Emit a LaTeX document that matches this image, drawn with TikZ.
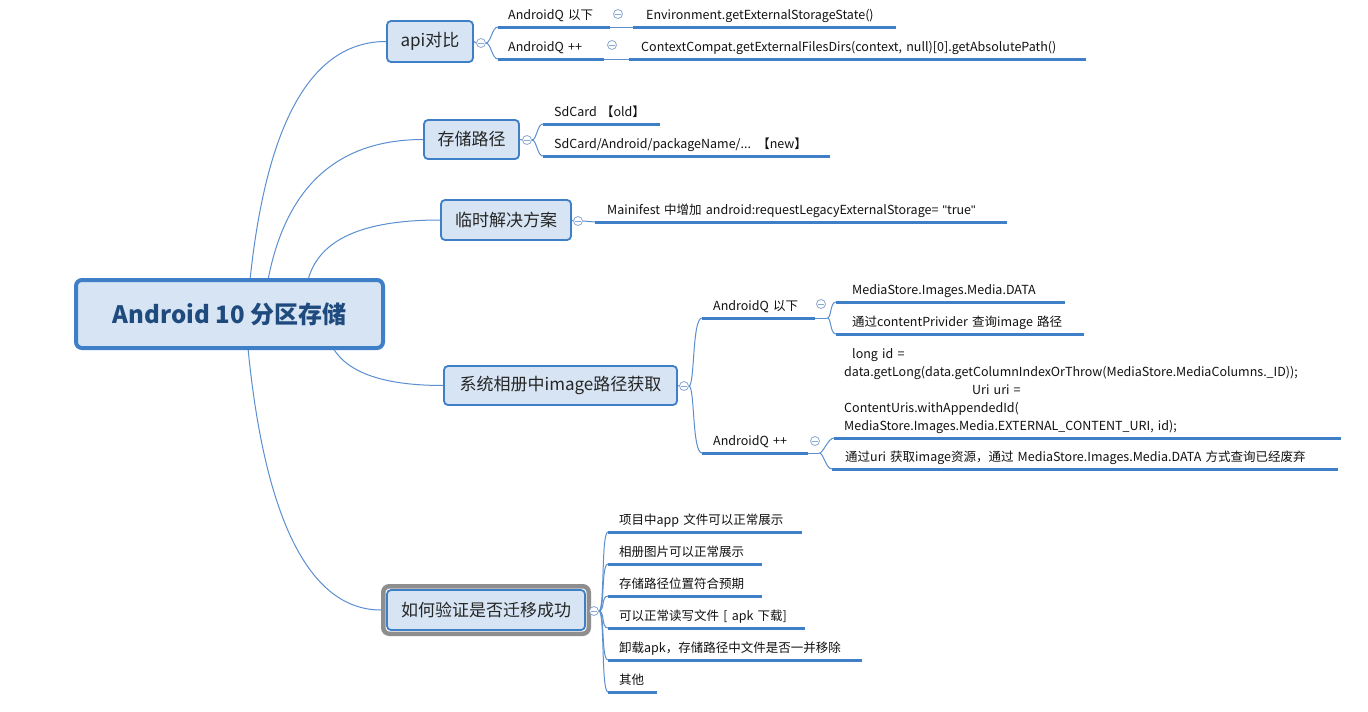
\documentclass[tikz,border=0pt]{standalone}
\usepackage{fontspec}
\setmainfont{Noto Sans CJK SC}
\newfontfamily\qfont{Liberation Sans}
\usetikzlibrary{calc,backgrounds}
\definecolor{bfill}{HTML}{D6E4F3}
\definecolor{bline}{HTML}{3F7FC7}
\definecolor{cline}{HTML}{5B8FD0}
\definecolor{rtext}{HTML}{1F4A7E}
\definecolor{ttext}{HTML}{262626}
\definecolor{ctext}{HTML}{111111}
\definecolor{btn}{HTML}{8AA8D4}
\definecolor{selgray}{HTML}{8E8E8E}
\newcommand{\leaftext}[2]{\hspace*{#1pt}\mbox{#2}}
\newcommand{\sq}{{\qfont\symbol{34}}}
\begin{document}
\begin{tikzpicture}[x=1pt,y=-1pt,
 conn/.style={draw=cline, line width=1pt},
 uline/.style={draw=bline, line width=3pt},
 rootbox/.style={draw=bline, fill=bfill, line width=4pt, rounded corners=6pt, minimum width=307pt, minimum height=68pt, font=\fontsize{24}{28}\selectfont\bfseries, text=rtext, inner sep=0pt},
 topic/.style={draw=bline, fill=bfill, line width=1.8pt, rounded corners=4pt, font=\fontsize{17}{20}\selectfont, text=ttext, inner sep=0pt},
 selbox/.style={draw=selgray, line width=4.5pt, rounded corners=6pt, inner sep=0pt},
 btnc/.style={circle, draw=btn, fill=white, line width=0.8pt, minimum size=9pt, inner sep=0pt, path picture={\draw[btn, line width=0.8pt] ([xshift=-2.6pt]path picture bounding box.center) -- ([xshift=2.6pt]path picture bounding box.center);}},
 leaf/.style={anchor=south west, inner xsep=0pt, inner ysep=4pt, text depth=3pt, align=left, text width=#1, font=\fontsize{12.5}{18}\selectfont, text=ctext},
 codeleaf/.style={anchor=south west, inner xsep=0pt, inner ysep=4pt, align=left, text width=#1, font=\fontsize{12.5}{18}\selectfont, text=ctext},
]
\useasboundingbox (0,0) rectangle (1368,712);

% root and main topics
\node[rootbox] (root) at (229.5,314) {Android 10 分区存储};
\node[topic, minimum width=86pt, minimum height=41pt] (api) at (430,41.5) {api对比};
\node[topic, minimum width=95pt, minimum height=39pt] (sto) at (471.5,139.5) {存储路径};
\node[topic, minimum width=130pt, minimum height=40pt] (tmp) at (506,220) {临时解决方案};
\node[topic, minimum width=233pt, minimum height=39pt] (sys) at (560.5,385.5) {系统相册中image路径获取};
\node[selbox, minimum width=205.5pt, minimum height=47.5pt] (vsel) at (486,610) {};
\node[topic, minimum width=198pt, minimum height=40pt] (vrf) at (486,610) {如何验证是否迁移成功};

% collapse buttons
\node[btnc] (capi) at (481,43) {};
\node[btnc] (csto) at (527,140) {};
\node[btnc] (ctmp) at (578,221) {};
\node[btnc] (csys) at (684,386) {};
\node[btnc] (cvrf) at (594,611) {};
\node[btnc] (caq1) at (618,14) {};
\node[btnc] (caq2) at (612,45) {};
\node[btnc] (caqa) at (821,304) {};
\node[btnc] (caqb) at (815,441) {};

% leaves: api
\node[leaf=112pt] (aq1) at (498,27) {\leaftext{10}{AndroidQ 以下}};
\node[leaf=263pt] (env) at (633,27) {\leaftext{13}{Environment.getExternalStorageState()}};
\node[leaf=106pt] (aq2) at (498,59) {\leaftext{10}{AndroidQ ++}};
\node[leaf=457pt] (cc) at (629,59) {\leaftext{12}{ContextCompat.getExternalFilesDirs(context, null)[0].getAbsolutePath()}};
% storage
\node[leaf=117pt] (old) at (543,124) {\leaftext{11}{SdCard 【old】}};
\node[leaf=287pt] (new) at (543,156) {\leaftext{11}{SdCard/Android/packageName/... 【new】}};
% temp
\node[leaf=412pt] (mani) at (595,222) {\leaftext{12}{Mainifest 中增加 android:requestLegacyExternalStorage= \sq true\sq}};
% album
\node[leaf=113pt] (aqa) at (702,318) {\leaftext{11}{AndroidQ 以下}};
\node[leaf=229pt] (ms) at (836,302) {\leaftext{16}{MediaStore.Images.Media.DATA}};
\node[leaf=248pt] (cp) at (836,334) {\leaftext{16}{通过contentPrivider 查询image 路径}};
\node[leaf=106pt] (aqb) at (702,453) {\leaftext{11}{AndroidQ ++}};
\node[codeleaf=507pt] (code) at (834,438) {\leaftext{18}{long id =}\\
\leaftext{10}{data.getLong(data.getColumnIndexOrThrow(MediaStore.MediaColumns.\_ID));}\\
\leaftext{138}{Uri uri =}\\
\leaftext{10}{ContentUris.withAppendedId(}\\
\leaftext{10}{MediaStore.Images.Media.EXTERNAL\_CONTENT\_URI, id);}};
\node[leaf=506pt] (uri) at (832,469) {\leaftext{13}{通过uri 获取image资源，通过 MediaStore.Images.Media.DATA 方式查询已经废弃}};
% verify
\node[leaf=194pt] (v1) at (608,532) {\leaftext{11}{项目中app 文件可以正常展示}};
\node[leaf=154pt] (v2) at (608,564) {\leaftext{11}{相册图片可以正常展示}};
\node[leaf=154pt] (v3) at (608,596) {\leaftext{11}{存储路径位置符合预期}};
\node[leaf=197pt] (v4) at (608,628) {\leaftext{11}{可以正常读写文件 [ apk 下载]}};
\node[leaf=254pt] (v5) at (608,660) {\leaftext{11}{卸载apk，存储路径中文件是否一并移除}};
\node[leaf=49pt] (v6) at (608,692) {\leaftext{11}{其他}};

% underlines
\foreach \n in {aq1,env,aq2,cc,old,new,mani,aqa,ms,cp,aqb,code,uri,v1,v2,v3,v4,v5,v6}
  \draw[uline] (\n.south west) -- (\n.south east);

\begin{scope}[on background layer]
\fill[white] (0,0) rectangle (1368,712);
% root to topics
\draw[conn] ($(root.north west)+(176,2)$) .. controls (266.7,121) and (312,41.5) .. (api.west);
\draw[conn] ($(root.north west)+(194,2)$) .. controls (286,186) and (338,139.5) .. (sto.west);
\draw[conn] ($(root.north west)+(234,2)$) .. controls (319,239) and (363,220) .. (tmp.west);
\draw[conn] ($(root.south west)+(259,-2)$) .. controls (348,373) and (384,385.5) .. (sys.west);
\draw[conn] ($(root.south west)+(174,-2)$) .. controls (265,523) and (311,610) .. (vsel.west);
% topics to buttons
\draw[conn] (api.east) -- (capi.west);
\draw[conn] (sto.east) -- (csto.west);
\draw[conn] (tmp.east) -- (ctmp.west);
\draw[conn] (sys.east) -- (csys.west);
\draw[conn] (vsel.east) -- (cvrf.west);
% buttons to leaves
\foreach \n in {aq1,aq2} \draw[conn] (capi.east) .. controls +(5,0) and +(-6,0) .. (\n.south west);
\foreach \n in {old,new} \draw[conn] (csto.east) .. controls +(5,0) and +(-6,0) .. (\n.south west);
\draw[conn] (ctmp.east) -- (mani.south west);
\foreach \n in {aqa,aqb} \draw[conn] (csys.east) .. controls +(6,0) and +(-10,0) .. (\n.south west);
\foreach \n in {v1,v2,v3,v4,v5,v6} \draw[conn] (cvrf.east) .. controls +(6,0) and +(-7,0) .. (\n.south west);
% sub leaves
\draw[conn] (aq1.south east) -- (env.south west);
\draw[conn] (aq2.south east) -- (cc.south west);
\draw[conn] (aqa.south east) -- ++(12,0) coordinate (ja);
\foreach \n in {ms,cp} \draw[conn] (ja) .. controls +(4,0) and +(-6,0) .. (\n.south west);
\draw[conn] (aqb.south east) -- ++(11,0) coordinate (jb);
\foreach \n in {code,uri} \draw[conn] (jb) .. controls +(4,0) and +(-6,0) .. (\n.south west);
\end{scope}
\end{tikzpicture}
\end{document}
